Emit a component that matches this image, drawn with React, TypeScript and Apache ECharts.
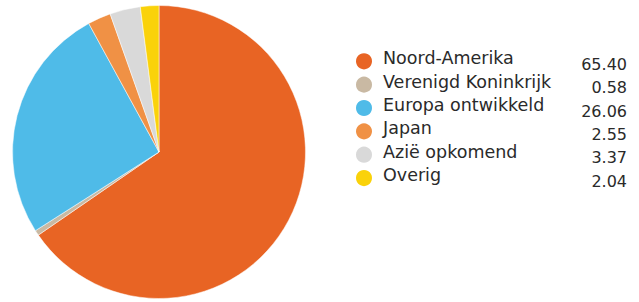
import React, { useEffect, useRef } from "react";
import * as echarts from "echarts";

const categories = ["Noord-Amerika", "Verenigd Koninkrijk", "Europa ontwikkeld", "Japan", "Azië opkomend", "Overig"];
const values = [65.4, 0.58, 26.06, 2.55, 3.37, 2.04];
const valueLabels = ["65.40", "0.58", "26.06", "2.55", "3.37", "2.04"];
const colors = ["#E86424", "#C9B9A3", "#4FBBE8", "#F09145", "#D9D9D9", "#FAD20A"];

export default function App() {
  const ref = useRef<HTMLDivElement>(null);
  useEffect(() => {
    const chart = echarts.init(ref.current!, null, { renderer: "svg" });
    const labelMap: Record<string, string> = {};
    categories.forEach((c, i) => (labelMap[c] = valueLabels[i]));
    chart.setOption({
      animation: false,
      color: colors,
      legend: {
        orient: "vertical",
        left: 349,
        top: 44.3,
        itemWidth: 18,
        itemHeight: 18,
        itemGap: 0.35,
        icon: "circle",
        selectedMode: false,
        data: categories,
        formatter: (name: string) => `{n|${name}}{v|${labelMap[name]}}`,
        textStyle: {
          fontFamily: "DejaVu Sans",
          fontSize: 17,
          color: "#2a2a2a",
          rich: {
            n: { fontFamily: "DejaVu Sans", fontSize: 17.5, color: "#2a2a2a", width: 192, padding: [0, 0, 6, 5] },
            v: { fontFamily: "DejaVu Sans", fontSize: 16, color: "#2a2a2a", width: 52, align: "right", padding: [6, 0, 0, 0] },
          },
        },
      },
      series: [
        {
          type: "pie",
          center: [159, 152],
          radius: [0, 146.5],
          startAngle: 90,
          clockwise: true,
          label: { show: false },
          labelLine: { show: false },
          itemStyle: { borderColor: "#fff", borderWidth: 0.5 },
          emphasis: { disabled: true },
          data: categories.map((c, i) => ({ name: c, value: values[i] })),
        },
      ],
    });
    return () => chart.dispose();
  }, []);
  return <div ref={ref} style={{ position: "absolute", left: 0, top: 0, width: 639, height: 302 }} />;
}
